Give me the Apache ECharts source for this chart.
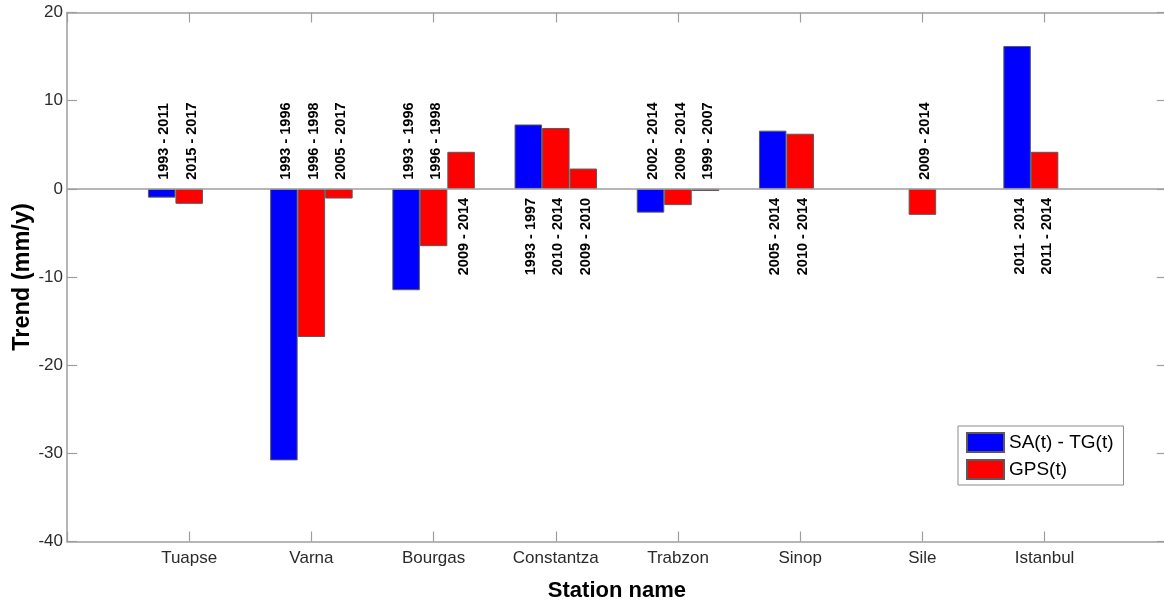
<!DOCTYPE html>
<html>
<head>
<meta charset="utf-8">
<script src="https://cdn.jsdelivr.net/npm/echarts@6/dist/echarts.min.js"></script>
<style>
  html, body { margin: 0; padding: 0; background: #ffffff; }
  #chart { width: 1164px; height: 605px; }
</style>
</head>
<body>
<div id="chart"></div>
<script>
// Tide-gauge stations along the Black Sea coast
const stations = ['Tuapse', 'Varna', 'Bourgas', 'Constantza', 'Trabzon', 'Sinop', 'Sile', 'Istanbul'];

// SA(t) - TG(t) trend (mm/y) and its time span
const saTgTrend = [-1.0, -30.8, -11.5, 7.3, -2.7, 6.6, null, 16.2];
const saTgPeriod = ['1993 - 2011', '1993 - 1996', '1993 - 1996', '1993 - 1997', '2002 - 2014', '2005 - 2014', '', '2011 - 2014'];

// GPS(t) trend (mm/y), first GPS record per station
const gpsTrend = [-1.7, -16.8, -6.5, 6.9, -1.85, 6.25, -2.95, 4.2];
const gpsPeriod = ['2015 - 2017', '1996 - 1998', '1996 - 1998', '2010 - 2014', '2009 - 2014', '2010 - 2014', '2009 - 2014', '2011 - 2014'];

// GPS(t) trend (mm/y), second GPS record where one exists
const gps2Trend = [null, -1.1, 4.2, 2.3, -0.25, null, null, null];
const gps2Period = ['', '2005 - 2017', '2009 - 2014', '2009 - 2010', '1999 - 2007', '', '', ''];

// Trend axis
const yMin = -40, yMax = 20, yStep = 10;

const FONT = '"Liberation Sans", Arial, Helvetica, sans-serif';
const BLUE = '#0000ff', RED = '#ff0000';
const AXIS_GREY = '#9e9e9e';
const BAR_W = 27.5;

// Stations sit at positions 1..8 on an axis running from 0 to 9
const axisCats = [''].concat(stations, ['']);
const pad = arr => [null].concat(arr, [null]);

function periodLabels(name, trend, period, offset) {
  const items = [];
  const texts = [];
  trend.forEach((v, i) => {
    if (v !== null && period[i]) {
      items.push([i + 1, v]);
      texts.push(period[i]);
    }
  });
  return {
    name: name,
    type: 'custom',
    silent: true,
    z: 5,
    data: items,
    encode: { x: 0, y: 1 },
    renderItem: function (params, api) {
      const v = api.value(1);
      const base = api.coord([api.value(0), 0]);
      const above = v < 0;
      return {
        type: 'text',
        x: base[0] + offset + 2.5,
        y: above ? base[1] - 9 : base[1] + 9,
        rotation: Math.PI / 2,
        style: {
          text: texts[params.dataIndex],
          fill: '#000000',
          font: 'bold 14.5px ' + FONT,
          align: above ? 'left' : 'right',
          verticalAlign: 'middle'
        }
      };
    }
  };
}

const barBorder = { borderColor: '#5a5a5a', borderWidth: 1 };
const boxLine = { show: true, onZero: false, lineStyle: { color: AXIS_GREY, width: 1.5 } };
const boxTick = { show: true, inside: true, length: 10, lineStyle: { color: AXIS_GREY, width: 1.2 } };

const option = {
  animation: false,
  backgroundColor: '#ffffff',
  grid: {
    left: 67, right: -2.8, top: 12.5, bottom: 63.5,
    containLabel: false,
    outerBoundsMode: 'none'
  },
  legend: {
    data: ['SA(t) - TG(t)', 'GPS(t)'],
    orient: 'vertical',
    left: 958, top: 426,
    itemWidth: 37, itemHeight: 19, itemGap: 6,
    padding: [6, 10, 5, 8],
    borderColor: '#8a8a8a', borderWidth: 1,
    backgroundColor: '#ffffff',
    icon: 'rect',
    selectedMode: false,
    textStyle: { fontSize: 19, color: '#000000', fontFamily: FONT }
  },
  xAxis: [
    {
      type: 'category',
      data: axisCats,
      boundaryGap: false,
      position: 'bottom',
      name: 'Station name',
      nameLocation: 'middle',
      nameGap: 38,
      nameMoveOverlap: false,
      nameTextStyle: { fontSize: 22, fontWeight: 'bold', color: '#000000', fontFamily: FONT },
      axisLine: boxLine,
      axisTick: Object.assign({ interval: 0 }, boxTick),
      axisLabel: { interval: 0, margin: 8, fontSize: 17, color: '#2b2b2b', fontFamily: FONT },
      splitLine: { show: false }
    },
    {
      type: 'category',
      data: axisCats,
      boundaryGap: false,
      position: 'top',
      axisLine: boxLine,
      axisTick: Object.assign({ interval: 0 }, boxTick),
      axisLabel: { show: false },
      splitLine: { show: false }
    }
  ],
  yAxis: [
    {
      type: 'value',
      min: yMin, max: yMax, interval: yStep,
      position: 'left',
      name: 'Trend (mm/y)',
      nameLocation: 'middle',
      nameGap: 32,
      nameMoveOverlap: false,
      nameTextStyle: { fontSize: 23.5, fontWeight: 'bold', color: '#000000', fontFamily: FONT },
      axisLine: boxLine,
      axisTick: boxTick,
      axisLabel: { margin: 4, fontSize: 17, color: '#2b2b2b', fontFamily: FONT },
      splitLine: { show: false }
    },
    {
      type: 'value',
      min: yMin, max: yMax, interval: yStep,
      position: 'right',
      axisLine: boxLine,
      axisTick: boxTick,
      axisLabel: { show: false },
      splitLine: { show: false }
    }
  ],
  series: [
    {
      name: 'SA(t) - TG(t)',
      type: 'bar',
      data: pad(saTgTrend),
      barWidth: BAR_W,
      barGap: '0%',
      itemStyle: Object.assign({ color: BLUE }, barBorder),
      markLine: {
        silent: true,
        symbol: ['none', 'none'],
        label: { show: false },
        lineStyle: { color: AXIS_GREY, width: 1.5, type: 'solid' },
        data: [{ yAxis: 0 }]
      }
    },
    {
      name: 'GPS(t)',
      type: 'bar',
      data: pad(gpsTrend),
      barWidth: BAR_W,
      barGap: '0%',
      itemStyle: Object.assign({ color: RED }, barBorder)
    },
    {
      name: 'GPS(t)',
      type: 'bar',
      data: pad(gps2Trend),
      barWidth: BAR_W,
      barGap: '0%',
      itemStyle: Object.assign({ color: RED }, barBorder)
    },
    periodLabels('SA(t) - TG(t) period', saTgTrend, saTgPeriod, -BAR_W),
    periodLabels('GPS(t) period', gpsTrend, gpsPeriod, 0),
    periodLabels('GPS(t) second period', gps2Trend, gps2Period, BAR_W)
  ]
};

const chart = echarts.init(document.getElementById('chart'), null, { renderer: 'canvas' });
chart.setOption(option);
</script>
</body>
</html>
